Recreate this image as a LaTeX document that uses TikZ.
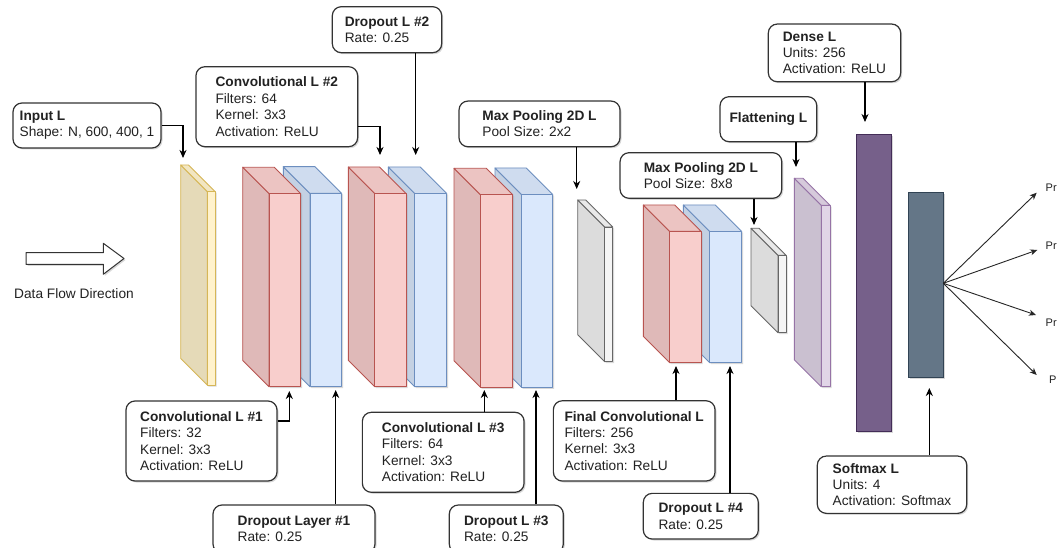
\documentclass[tikz,border=0pt]{standalone}
\usepackage{fontspec}
\setmainfont{Liberation Sans}
\usetikzlibrary{arrows.meta,shadows}
\definecolor{yfill}{HTML}{FFF2CC}\definecolor{ydraw}{HTML}{D6B656}
\definecolor{rfill}{HTML}{F8CECC}\definecolor{rdraw}{HTML}{B85450}
\definecolor{bfill}{HTML}{DAE8FC}\definecolor{bdraw}{HTML}{6C8EBF}
\definecolor{gfill}{HTML}{F5F5F5}\definecolor{gdraw}{HTML}{666666}
\definecolor{pfill}{HTML}{E1D5E7}\definecolor{pdraw}{HTML}{9673A6}
\definecolor{dnfill}{HTML}{76608A}\definecolor{dndraw}{HTML}{432D57}
\definecolor{smfill}{HTML}{647687}\definecolor{smdraw}{HTML}{314354}
\definecolor{txt}{HTML}{222222}
\tikzset{
  mysh/.style={drop shadow={shadow xshift=1.5pt, shadow yshift=-1.5pt, opacity=0.3, fill=black!50}},
  lbox/.style={draw=black!80, line width=1.2pt, rounded corners=9pt, fill=white, align=left,
    inner sep=0pt, text=txt, font=\fontsize{13.7}{16.4}\selectfont, mysh},
  arr/.style={-{Stealth[length=8pt,width=7pt,inset=2.5pt]}, line width=1.2pt, black},
  outarr/.style={-{Stealth[length=7pt,width=6pt,inset=2pt]}, line width=0.9pt, black!85},
  cubeline/.style={line width=0.9pt, line join=round},
  flatl/.style={line width=1pt, inner sep=0pt, anchor=north west, mysh},
  lbl/.style={font=\fontsize{13.7}{16.4}\selectfont, text=txt, inner sep=0pt},
  plbl/.style={font=\fontsize{11}{13}\selectfont, text=txt, inner sep=0pt, anchor=west}
}
\newcommand{\layercube}[8]{%
  \path[mysh, fill=white] (#2,#3) -- ({#4-#6},#3) -- (#4,{#3+#6}) -- (#4,#5) -- ({#2+#6},#5) -- (#2,{#5-#6}) -- cycle;
  \filldraw[cubeline, draw=#8, fill=#7!90!black] (#2,#3) -- ({#2+#6},{#3+#6}) -- ({#2+#6},#5) -- (#2,{#5-#6}) -- cycle;
  \filldraw[cubeline, draw=#8, fill=#7!95!black] (#2,#3) -- ({#4-#6},#3) -- (#4,{#3+#6}) -- ({#2+#6},{#3+#6}) -- cycle;
  \node[cubeline, draw=#8, fill=#7, anchor=north west, inner sep=0pt, outer sep=0pt,
    minimum width={(#4-#2-#6)*1pt}, minimum height={(#5-#3-#6)*1pt}] (#1) at ({#2+#6},{#3+#6}) {};
}
\begin{document}
\begin{tikzpicture}[x=1pt,y=-1pt]
\useasboundingbox[fill=white] (0,0) rectangle (1058,548);

% data flow arrow
\path[mysh, draw=black!80, fill=white, line width=1pt, line join=round]
  (26,252.7) -- (103.3,252.7) -- (103.3,243.3) -- (124,258.5) -- (103.3,274.3) -- (103.3,264.3) -- (26,264.3) -- cycle;
\node[lbl] (flow) at (74,294) {Data Flow Direction};

% layers
\layercube{inl}{180.7}{165}{215}{385}{26.5}{yfill}{ydraw}
\layercube{d1l}{283.3}{166.7}{341.7}{386.7}{26.7}{bfill}{bdraw}
\layercube{c1l}{242.7}{167.3}{300.7}{386.7}{26.3}{rfill}{rdraw}
\layercube{d2l}{388.3}{167}{446.7}{386.7}{26.5}{bfill}{bdraw}
\layercube{c2l}{348.3}{167}{406}{386.7}{26.5}{rfill}{rdraw}
\layercube{d3l}{495}{168}{552.7}{387.3}{26.5}{bfill}{bdraw}
\layercube{c3l}{454}{168.3}{512.7}{387.3}{26.5}{rfill}{rdraw}
\layercube{mp1l}{577.7}{200}{612.7}{361.7}{27}{gfill}{gdraw}
\layercube{d4l}{683.3}{205}{741.7}{362.7}{26.5}{bfill}{bdraw}
\layercube{c4l}{643.3}{205}{701}{362.7}{26.3}{rfill}{rdraw}
\layercube{mp2l}{751}{228.3}{786}{332.7}{27}{gfill}{gdraw}
\layercube{fll}{794.3}{178.3}{830}{386.7}{27}{pfill}{pdraw}

\node[flatl, draw=dndraw, fill=dnfill, minimum width=35pt, minimum height=296.7pt] (dnl) at (856,134) {};
\node[flatl, draw=smdraw, fill=smfill, minimum width=35pt, minimum height=185pt] (sml) at (908.3,191.7) {};

% label boxes
\node[lbox, minimum width=148pt, minimum height=45pt] (inbox) at (87,125.5) {\textbf{Input L}\\Shape: N, 600, 400, 1};
\node[lbox, minimum width=151pt, minimum height=80pt] (c1box) at (201.5,441) {\textbf{Convolutional L \#1}\\Filters: 32\\Kernel: 3x3\\Activation: ReLU};
\node[lbox, minimum width=162pt, minimum height=48pt] (d1box) at (294,529) {\textbf{Dropout Layer \#1}\\Rate: 0.25};
\node[lbox, minimum width=161.7pt, minimum height=80pt] (c2box) at (276.8,106.7) {\textbf{Convolutional L \#2}\\Filters: 64\\Kernel: 3x3\\Activation: ReLU};
\node[lbox, minimum width=109.4pt, minimum height=46pt] (d2box) at (387,29.7) {\textbf{Dropout L \#2}\\Rate: 0.25};
\node[lbox, minimum width=161.7pt, minimum height=80pt] (c3box) at (443.2,452.3) {\textbf{Convolutional L \#3}\\Filters: 64\\Kernel: 3x3\\Activation: ReLU};
\node[lbox, minimum width=114pt, minimum height=48pt] (d3box) at (506.3,529) {\textbf{Dropout L \#3}\\Rate: 0.25};
\node[lbox, minimum width=161pt, minimum height=45.7pt] (mp1box) at (539.5,123.9) {\textbf{Max Pooling 2D L}\\Pool Size: 2x2};
\node[lbox, minimum width=161.7pt, minimum height=80.3pt] (fcbox) at (634.2,440.9) {\textbf{Final Convolutional L}\\Filters: 256\\Kernel: 3x3\\Activation: ReLU};
\node[lbox, minimum width=115pt, minimum height=45.7pt] (d4box) at (700.8,516.2) {\textbf{Dropout L \#4}\\Rate: 0.25};
\node[lbox, minimum width=161.7pt, minimum height=45.6pt] (mp2box) at (700.9,175.5) {\textbf{Max Pooling 2D L}\\Pool Size: 8x8};
\node[lbox, minimum width=96.7pt, minimum height=45pt] (flbox) at (768.4,119.2) {\textbf{Flattening L}};
\node[lbox, minimum width=132.4pt, minimum height=57.7pt] (dnbox) at (834.5,52.9) {\textbf{Dense L}\\Units: 256\\Activation: ReLU};
\node[lbox, minimum width=149.4pt, minimum height=57.3pt] (smbox) at (892,484.7) {\textbf{Softmax L}\\Units: 4\\Activation: Softmax};

% arrow end points
\coordinate (t-in) at (183,158);
\coordinate (t-c2) at (380,155);
\coordinate (t-d2) at (415.7,155);
\coordinate (t-mp1) at (576.7,189);
\coordinate (t-mp2) at (754,225);
\coordinate (t-fl) at (796,167);
\coordinate (t-dn) at (865,122);
\coordinate (t-c1) at (289.3,391);
\coordinate (t-d1) at (335.7,390);
\coordinate (t-c3) at (484.3,390);
\coordinate (t-d3) at (536,390);
\coordinate (t-c4) at (676,366);
\coordinate (t-d4) at (730,366);
\coordinate (t-sm) at (929.3,388);

\draw[arr] (inbox.east) -| (t-in);
\draw[arr] (c2box.east |- 0,126.7) -| (t-c2);
\draw[arr] (d2box.south -| t-d2) -- (t-d2);
\draw[arr] (mp1box.south -| t-mp1) -- (t-mp1);
\draw[arr] (mp2box.south -| t-mp2) -- (t-mp2);
\draw[arr] (flbox.south -| t-fl) -- (t-fl);
\draw[arr] (dnbox.south -| t-dn) -- (t-dn);
\draw[arr] (c1box.east |- 0,421) -| (t-c1);
\draw[arr] (d1box.north -| t-d1) -- (t-d1);
\draw[arr] (c3box.north -| t-c3) -- (t-c3);
\draw[arr] (d3box.north -| t-d3) -- (t-d3);
\draw[arr] (fcbox.north -| t-c4) -- (t-c4);
\draw[arr] (d4box.north -| t-d4) -- (t-d4);
\draw[arr] (smbox.north -| t-sm) -- (t-sm);

% outputs
\node[plbl] (p1) at (1045.5,187.3) {Pr};
\node[plbl] (p2) at (1045.5,246) {Pr};
\node[plbl] (p3) at (1045.5,323) {Pr};
\node[plbl] (p4) at (1049,380) {P};
\coordinate (sm-out) at (943.3,283.3);
\coordinate (o1) at (1036.7,192.7);
\coordinate (o2) at (1037.3,250);
\coordinate (o3) at (1036,315);
\coordinate (o4) at (1036.7,375);
\draw[outarr] (sm-out) -- (o1);
\draw[outarr] (sm-out) -- (o2);
\draw[outarr] (sm-out) -- (o3);
\draw[outarr] (sm-out) -- (o4);
\end{tikzpicture}
\end{document}
